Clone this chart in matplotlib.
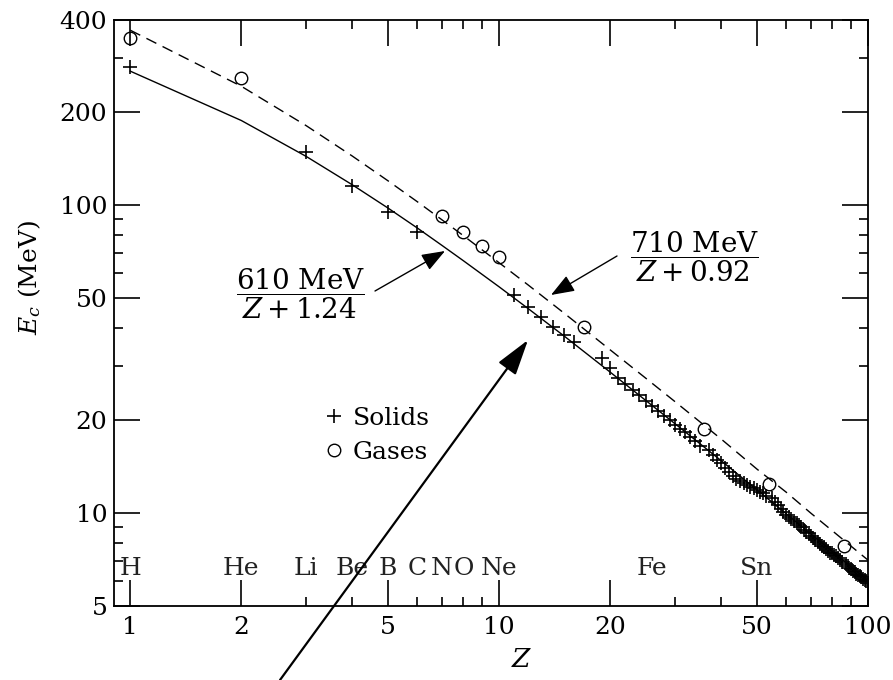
import matplotlib
matplotlib.use('Agg')
import matplotlib.pyplot as plt
from matplotlib.ticker import FixedLocator, NullFormatter

plt.rcParams['font.family'] = 'DejaVu Serif'
plt.rcParams['mathtext.fontset'] = 'dejavuserif'

# solids (+)
z_solid = [1, 3, 4, 5, 6, 11, 12, 13, 14, 15, 16, 19, 20, 21, 22, 23, 24, 25, 26, 27,
           28, 29, 30, 31, 32, 33, 34, 35, 37, 38, 39, 40, 41, 42, 43, 44, 45, 46, 47,
           48, 49, 50, 51, 52, 53, 55, 56, 57, 58, 59, 60, 61, 62, 63, 64, 65, 66, 67,
           68, 69, 70, 71, 72, 73, 74, 75, 76, 77, 78, 79, 80, 81, 82, 83, 84, 85, 87,
           88, 89, 90, 91, 92, 93, 94, 95, 96, 97, 98, 99, 100]
ec_solid = [281, 149, 115, 95, 82, 51.2, 46.7, 43.4, 40.3, 37.9, 36.0, 31.9, 29.6, 27.5,
            26.3, 25.2, 24.2, 23.2, 22.2, 21.4, 20.7, 20.0, 19.4, 18.8, 18.3, 17.7, 17.2,
            16.5, 16.0, 15.4, 14.9, 14.5, 14.0, 13.6, 13.2, 12.9, 12.7, 12.5, 12.3, 12.2,
            12.1, 11.9, 11.7, 11.6, 11.4, 11.2, 10.9, 10.6, 10.3, 10.1, 9.9, 9.75, 9.6,
            9.45, 9.3, 9.15, 9.0, 8.85, 8.7, 8.6, 8.45, 8.3, 8.2, 8.05, 7.95, 7.85, 7.75,
            7.65, 7.55, 7.45, 7.4, 7.3, 7.25, 7.15, 7.05, 6.95, 6.85, 6.75, 6.65, 6.6,
            6.5, 6.45, 6.35, 6.3, 6.25, 6.2, 6.1, 6.05, 6.0, 5.95]

# gases (o)
z_gas = [1, 2, 7, 8, 9, 10, 17, 36, 54, 86]
ec_gas = [349, 259, 92, 82, 73.8, 67.9, 40.3, 18.8, 12.4, 7.8]

# fit curves 610/(Z+1.24) (solid) and 710/(Z+0.92) (dashed)
z_fit = [1, 2, 3, 4, 5, 6, 7, 8, 10, 12, 15, 20, 25, 30, 40, 50, 60, 70, 80, 90, 100]
ec_fit_solid = [272.3, 188.3, 143.9, 116.4, 97.8, 84.3, 74.0, 66.0, 54.3, 46.1, 37.6,
                28.7, 23.2, 19.5, 14.8, 11.9, 9.96, 8.56, 7.51, 6.69, 6.03]
ec_fit_gas = [369.8, 243.2, 181.1, 144.3, 119.9, 102.6, 89.6, 79.6, 65.0, 55.0, 44.6,
              33.9, 27.4, 23.0, 17.4, 13.9, 11.7, 10.0, 8.77, 7.81, 7.04]

elements = ['H', 'He', 'Li', 'Be', 'B', 'C', 'N', 'O', 'Ne', 'Fe', 'Sn']
z_elements = [1, 2, 3, 4, 5, 6, 7, 8, 10, 26, 50]

x_ticks = [1, 2, 5, 10, 20, 50, 100]
y_ticks = [5, 10, 20, 50, 100, 200, 400]

W, H = 893, 680
fig = plt.figure(figsize=(W / 100, H / 100), dpi=100)
ax = fig.add_axes([0.128, 0.109, 0.844, 0.862])

ax.plot(z_fit, ec_fit_solid, color='black', lw=1.0)
ax.plot(z_fit, ec_fit_gas, color='black', lw=1.0, dashes=(8, 5))
ax.plot(z_solid, ec_solid, ls='none', marker='+', ms=10, mew=1.2, color='black', label='Solids')
ax.plot(z_gas, ec_gas, ls='none', marker='o', ms=9, mew=1.0, mfc='none', mec='black', label='Gases')

ax.set_xscale('log')
ax.set_yscale('log')
ax.set_xlim(0.905, 100)
ax.set_ylim(5, 400)

ax.xaxis.set_major_locator(FixedLocator(x_ticks))
ax.set_xticklabels([str(v) for v in x_ticks])
ax.xaxis.set_minor_locator(FixedLocator([3, 4, 6, 7, 8, 9, 30, 40, 60, 70, 80, 90]))
ax.xaxis.set_minor_formatter(NullFormatter())
ax.yaxis.set_major_locator(FixedLocator(y_ticks))
ax.set_yticklabels([str(v) for v in y_ticks])
ax.yaxis.set_minor_locator(FixedLocator([6, 7, 8, 9, 30, 40, 60, 70, 80, 90, 300]))
ax.yaxis.set_minor_formatter(NullFormatter())

ax.tick_params(which='both', direction='in', top=True, right=True, labelsize=18, width=1.2)
ax.tick_params(which='major', length=19)
ax.tick_params(which='minor', length=6.5)
ax.tick_params(axis='x', pad=7)
ax.tick_params(axis='y', pad=5)
for s in ax.spines.values():
    s.set_linewidth(1.3)

ax.set_xlabel('$Z$', fontsize=19)
ax.xaxis.set_label_coords(0.54, -0.07)
ax.set_ylabel('$E_c$ (MeV)', fontsize=18)
ax.yaxis.set_label_coords(-0.095, 0.56)

for name, z in zip(elements, z_elements):
    ax.text(z, 6.3, name, ha='center', va='baseline', fontsize=18, color='#222222')

ax.legend(loc='upper left', bbox_to_anchor=(0.255, 0.37), frameon=False, fontsize=18,
          handlelength=0.8, handletextpad=0.35, labelspacing=0.45, borderpad=0.2)

# fraction labels, placed in figure pixels (y from top)
fig.text(301 / W, 1 - 294 / H, r'$\dfrac{610\ \mathrm{MeV}}{Z+1.24}$', fontsize=20,
         ha='center', va='center')
fig.text(695 / W, 1 - 257 / H, r'$\dfrac{710\ \mathrm{MeV}}{Z+0.92}$', fontsize=20,
         ha='center', va='center')

# small arrows to the curves
ax.annotate('', xy=(445 / W, 1 - 251 / H), xytext=(375 / W, 1 - 291 / H),
            xycoords='figure fraction', textcoords='figure fraction',
            arrowprops=dict(arrowstyle='-|>,head_length=0.8,head_width=0.3',
                            mutation_scale=18, color='black', lw=1.0, shrinkA=0, shrinkB=0))
ax.annotate('', xy=(551 / W, 1 - 295 / H), xytext=(617 / W, 1 - 256 / H),
            xycoords='figure fraction', textcoords='figure fraction',
            arrowprops=dict(arrowstyle='-|>,head_length=0.8,head_width=0.3',
                            mutation_scale=18, color='black', lw=1.0, shrinkA=0, shrinkB=0))
# long arrow from below the axes
ax.annotate('', xy=(528 / W, 1 - 340 / H), xytext=(280 / W, 0.0),
            xycoords='figure fraction', textcoords='figure fraction', annotation_clip=False,
            arrowprops=dict(arrowstyle='-|>,head_length=1.0,head_width=0.3',
                            mutation_scale=22, color='black', lw=1.6, shrinkA=0, shrinkB=0))

fig.savefig('out.png', dpi=100)
